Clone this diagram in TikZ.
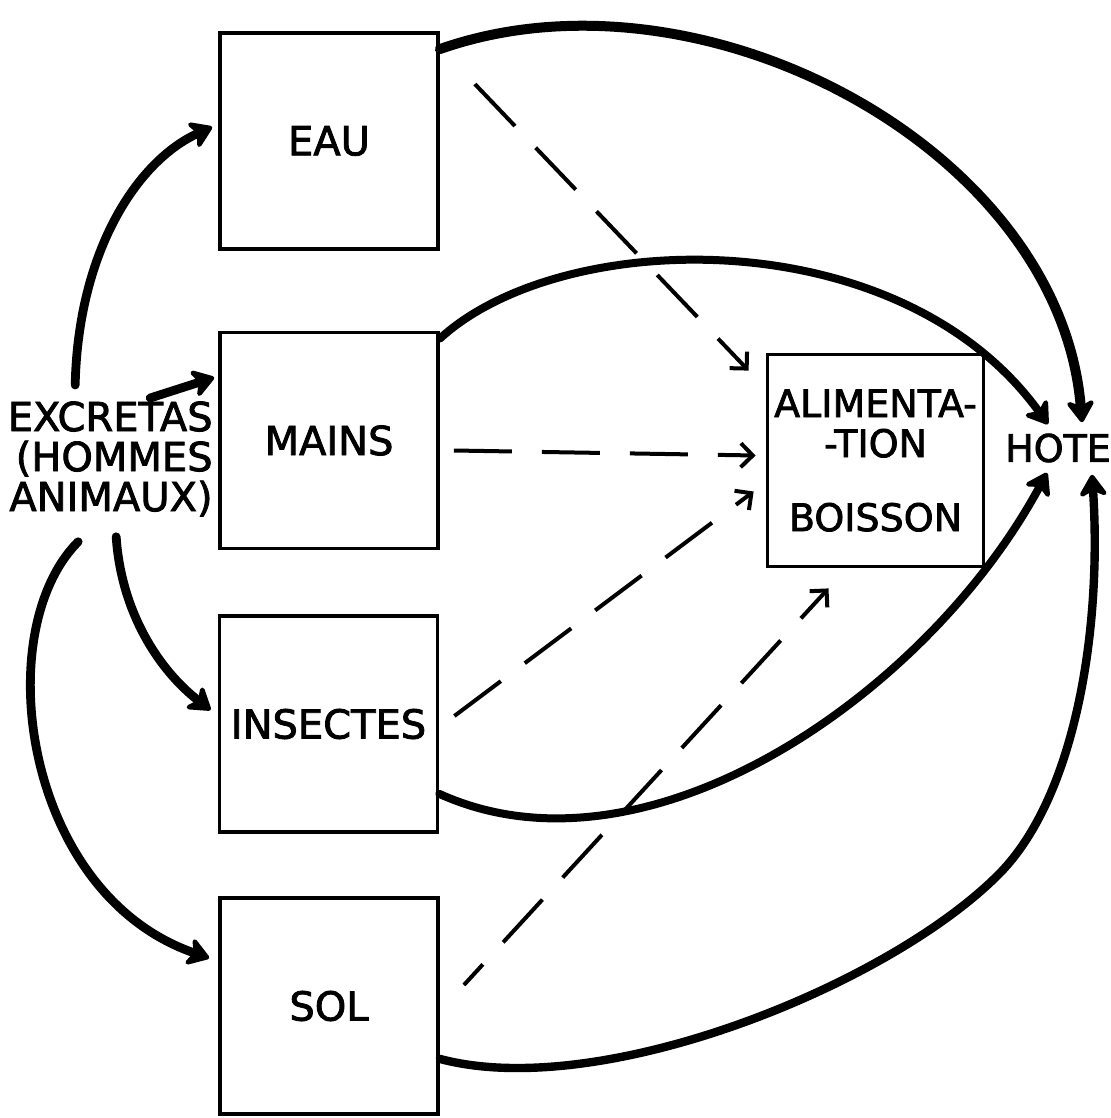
\documentclass[tikz,border=0pt]{standalone}
\usepackage{fontspec}
\setmainfont{DejaVu Sans}[FakeBold=2]
\usetikzlibrary{arrows.meta}

\begin{document}
\begin{tikzpicture}[x=0.5pt,y=-0.5pt,
	boite/.style={draw, line width=1.9pt, minimum width=109pt, minimum height=108pt, inner sep=0pt, font=\fontsize{20}{20}\selectfont},
	etiq/.style={inner sep=0pt, font=\fontsize{20}{20}\selectfont},
	fleche/.style={line width=4.4pt, line cap=round, -{Stealth[length=13pt,width=17pt,inset=4pt,round]}},
	pointille/.style={line width=2pt, dash pattern=on 29pt off 15pt, -{Straight Barb[length=6pt,width=12pt]}}]
	\path[use as bounding box, fill=white] (0,0) rectangle (1111,1118);
	
	%Shape: Rectangle
	\node[boite] (eau) at (329,141) {EAU};
	\node[boite] (mains) at (329,440.5) {MAINS};
	\node[boite] (insectes) at (328.5,724) {INSECTES};
	\node[boite] (sol) at (329,1006) {SOL};
	\node[boite, minimum width=108pt, minimum height=106pt, align=center, font=\fontsize{19}{20}\selectfont] (alim) at (875.5,460.5) {ALIMENTA-\\-TION\\[17pt]BOISSON};
	
	% Text Node
	\node[etiq, align=right, anchor=north east] (excretas) at (213,401) {EXCRETAS\\(HOMMES\\ANIMAUX)};
	% Text Node
	\node[etiq, font=\fontsize{19}{19}\selectfont] (hote) at (1058,448) {HOTE};
	
	%Curve Lines
	\draw[fleche] ([shift={(-35,-16)}]excretas.north) .. controls +(3,-135) and +(-74,33) .. ([shift={(-6,-14)}]eau.west);
	\draw[fleche] ([shift={(40,-3)}]excretas.north) -- ([shift={(-4,-63)}]mains.west);
	\draw[fleche] ([shift={(6,20)}]excretas.south) .. controls +(5,75) and +(-52,-40) .. ([shift={(-7,-14)}]insectes.west);
	\draw[fleche] ([shift={(-32,25)}]excretas.south) .. controls +(-90,90) and +(-185,-63) .. ([shift={(-9,-48)}]sol.west);
	
	%Curve Lines
	\draw[fleche, line width=5pt] ([shift={(0,18)}]eau.north east) .. controls +(262,-92) and +(-22,-273) .. ([shift={(24,-11)}]hote.north);
	\draw[fleche, line width=4pt] ([shift={(0,8)}]mains.north east) .. controls +(122,-112) and +(-148,-205) .. ([shift={(-10,-9)}]hote.north);
	\draw[fleche, line width=4pt] ([shift={(0,-40)}]insectes.south east) .. controls +(210,95) and +(-117,218) .. ([shift={(-11,10)}]hote.south);
	\draw[fleche, line width=4.2pt] ([shift={(0,-57)}]sol.south east) .. controls +(161,43) and +(-110,112) .. (1000,873) .. controls +(77,-79) and +(10,150) .. ([shift={(34,12)}]hote.south);
	
	%Straight Lines
	\draw[pointille] ([shift={(35,53)}]eau.north east) -- ([shift={(-17,18)}]alim.north west);
	\draw[pointille] ([shift={(14,10)}]mains.east) -- ([shift={(-10,-5)}]alim.west);
	\draw[pointille] ([shift={(15,-8)}]insectes.east) -- ([shift={(-12,31)}]alim.west);
	\draw[pointille, dash phase=15pt] ([shift={(24,-21)}]sol.east) -- ([shift={(-47,20)}]alim.south);
\end{tikzpicture}
\end{document}
